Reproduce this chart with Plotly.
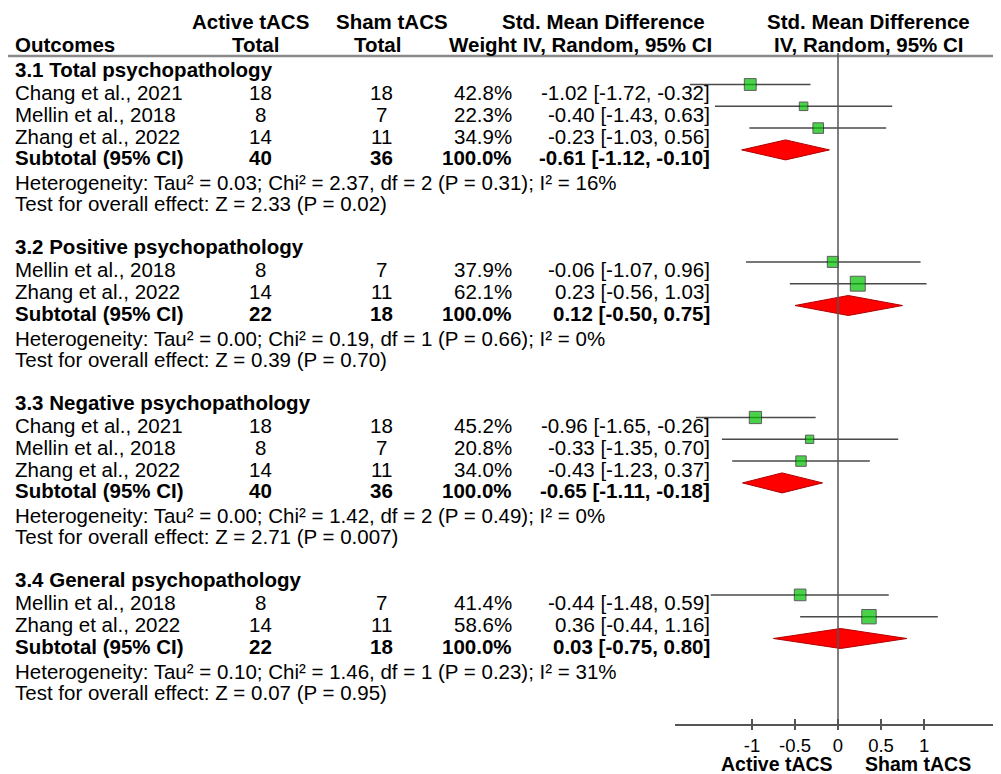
import plotly.graph_objects as go

# ---------------- data ----------------
group_titles = ["3.1 Total psychopathology", "3.2 Positive psychopathology",
                "3.3 Negative psychopathology", "3.4 General psychopathology"]

study_group = [0, 0, 0, 1, 1, 2, 2, 2, 3, 3]
study_names = ["Chang et al., 2021", "Mellin et al., 2018", "Zhang et al., 2022",
               "Mellin et al., 2018", "Zhang et al., 2022",
               "Chang et al., 2021", "Mellin et al., 2018", "Zhang et al., 2022",
               "Mellin et al., 2018", "Zhang et al., 2022"]
active_total = [18, 8, 14, 8, 14, 18, 8, 14, 8, 14]
sham_total = [18, 7, 11, 7, 11, 18, 7, 11, 7, 11]
weights = [42.8, 22.3, 34.9, 37.9, 62.1, 45.2, 20.8, 34.0, 41.4, 58.6]
smd = [-1.02, -0.40, -0.23, -0.06, 0.23, -0.96, -0.33, -0.43, -0.44, 0.36]
ci_low = [-1.72, -1.43, -1.03, -1.07, -0.56, -1.65, -1.35, -1.23, -1.48, -0.44]
ci_high = [-0.32, 0.63, 0.56, 0.96, 1.03, -0.26, 0.70, 0.37, 0.59, 1.16]

sub_active = [40, 22, 40, 22]
sub_sham = [36, 18, 36, 18]
sub_smd = [-0.61, 0.12, -0.65, 0.03]
sub_low = [-1.12, -0.50, -1.11, -0.75]
sub_high = [-0.10, 0.75, -0.18, 0.80]

heterogeneity = [
    "Heterogeneity: Tau² = 0.03; Chi² = 2.37, df = 2 (P = 0.31); I² = 16%",
    "Heterogeneity: Tau² = 0.00; Chi² = 0.19, df = 1 (P = 0.66); I² = 0%",
    "Heterogeneity: Tau² = 0.00; Chi² = 1.42, df = 2 (P = 0.49); I² = 0%",
    "Heterogeneity: Tau² = 0.10; Chi² = 1.46, df = 1 (P = 0.23); I² = 31%",
]
overall_effect = [
    "Test for overall effect: Z = 2.33 (P = 0.02)",
    "Test for overall effect: Z = 0.39 (P = 0.70)",
    "Test for overall effect: Z = 2.71 (P = 0.007)",
    "Test for overall effect: Z = 0.07 (P = 0.95)",
]

tick_values = [-1, -0.5, 0, 0.5, 1]
tick_labels = ["-1", "-0.5", "0", "0.5", "1"]
favours_left = "Active tACS"
favours_right = "Sham tACS"

# ---------------- layout helpers ----------------
OFF = 8                       # page body margin of the html page
PAGE_W, PAGE_H = 1001, 774
W, H = PAGE_W - OFF, PAGE_H - OFF
FONT = "Liberation Sans, Arial, sans-serif"
FS = 20.5
MARK_SHIFT = 8  # markers sit slightly above the text rows

# row positions (page pixel units on the y axis)
heading_y, study_y, sub_y, het_y, test_y = [], [], [], [], []
cur = 69
for g in range(len(group_titles)):
    heading_y.append(cur)
    cur += 23.5
    first = True
    for sg in study_group:
        if sg == g:
            if not first:
                cur += 21.8
            study_y.append(cur)
            first = False
    cur += 21.8
    sub_y.append(cur)
    cur += 24.5
    het_y.append(cur)
    cur += 21.5
    test_y.append(cur)
    cur += 42.5


def px(x):
    return max(0.0, (x - OFF) / W)


def py(y):
    return 1 - (y - OFF) / H


fig = go.Figure()

# CI lines for studies
lx, ly = [], []
for lo, hi, y in zip(ci_low, ci_high, study_y):
    lx += [lo, hi, None]
    ly += [y - MARK_SHIFT, y - MARK_SHIFT, None]
fig.add_trace(go.Scatter(x=lx, y=ly, mode="lines",
                         line=dict(color="#4a4a4a", width=1.5),
                         hoverinfo="skip"))

# study squares
fig.add_trace(go.Scatter(
    x=smd, y=[y - MARK_SHIFT for y in study_y], mode="markers",
    marker=dict(symbol="square", size=[5 + 0.16 * w for w in weights],
                color="#00bf00", line=dict(color="#1a1a1a", width=1))))

# subtotal diamonds
for est, lo, hi, y in zip(sub_smd, sub_low, sub_high, sub_y):
    yc = y - MARK_SHIFT
    fig.add_trace(go.Scatter(
        x=[lo, est, hi, est, lo], y=[yc, yc - 10, yc, yc + 10, yc],
        mode="lines", fill="toself", fillcolor="#ff0000",
        line=dict(color="#b00000", width=1), hoverinfo="skip"))

# invisible trace for the overlay axis (crossing ticks)
fig.add_trace(go.Scatter(x=[0], y=[700], xaxis="x2", yaxis="y",
                         mode="markers", marker=dict(opacity=0),
                         hoverinfo="skip"))

ann = []


def txt(x, y, s, anchor="left", bold=False, size=FS, pad=1):
    ann.append(dict(x=px(x), xref="paper", y=py(y), yref="paper",
                    text=(f"<b>{s}</b>" if bold else s),
                    showarrow=False, xanchor=anchor, yanchor="middle",
                    borderpad=pad,
                    font=dict(family=FONT, size=size, color="black")))


LEFT = 13
C_ACT, C_SHAM, R_W, R_CI = 260, 381, 514, 712

# headers
txt(250, 22, "Active tACS", "center", True)
txt(255, 45, "Total", "center", True)
txt(392, 22, "Sham tACS", "center", True)
txt(377, 45, "Total", "center", True)
txt(LEFT, 45, "Outcomes", "left", True)
txt(707, 22, "Std. Mean Difference", "right", True)
txt(714, 45, "Weight IV, Random, 95% CI", "right", True)
txt(868, 22, "Std. Mean Difference", "center", True)
txt(869, 45, "IV, Random, 95% CI", "center", True)

for g, title in enumerate(group_titles):
    txt(LEFT, heading_y[g], title, "left", True)
    txt(LEFT, sub_y[g], "Subtotal (95% CI)", "left", True)
    txt(C_ACT, sub_y[g], str(sub_active[g]), "center", True)
    txt(C_SHAM, sub_y[g], str(sub_sham[g]), "center", True)
    txt(R_W, sub_y[g], "100.0%", "right", True)
    txt(R_CI, sub_y[g], f"{sub_smd[g]:.2f} [{sub_low[g]:.2f}, {sub_high[g]:.2f}]", "right", True)
    txt(LEFT, het_y[g], heterogeneity[g], "left")
    txt(LEFT, test_y[g], overall_effect[g], "left")

for i, name in enumerate(study_names):
    y = study_y[i]
    txt(LEFT, y, name, "left")
    txt(C_ACT, y, str(active_total[i]), "center")
    txt(C_SHAM, y, str(sham_total[i]), "center")
    txt(R_W, y, f"{weights[i]:.1f}%", "right")
    txt(R_CI, y, f"{smd[i]:.2f} [{ci_low[i]:.2f}, {ci_high[i]:.2f}]", "right")

# favours labels
txt(834, 764, favours_left, "right", True, 19.5, 0)
txt(864, 764, favours_right, "left", True, 19.5, 0)

shapes = [
    # header rule
    dict(type="line", xref="paper", yref="y", x0=0, x1=1, y0=56, y1=56,
         line=dict(color="#8a8a8a", width=2.5)),
    # line of no effect
    dict(type="line", xref="x", yref="y", x0=0, x1=0, y0=53, y1=724,
         line=dict(color="#555555", width=1.5)),
]

AXIS_Y = 724
xdom = [px(675), 1]
xr = [-1.895, 1.895]
fig.update_layout(
    width=W, height=H, margin=dict(l=0, r=0, t=0, b=0),
    plot_bgcolor="white", paper_bgcolor="white", showlegend=False,
    font=dict(family=FONT, size=FS, color="black"),
    xaxis=dict(domain=xdom, range=xr, tickvals=tick_values, ticktext=tick_labels,
               showline=True, linecolor="#555555", linewidth=1.5,
               ticks="outside", ticklen=4, tickcolor="#555555", tickwidth=1.5,
               showgrid=False, zeroline=False, anchor="y",
               tickfont=dict(family=FONT, size=18.5, color="black")),
    xaxis2=dict(domain=xdom, range=xr, tickvals=tick_values, overlaying="x",
                ticks="inside", ticklen=5, tickcolor="#555555", tickwidth=1.5,
                showticklabels=False, showline=False, showgrid=False,
                zeroline=False, anchor="y", side="bottom"),
    yaxis=dict(domain=[py(AXIS_Y), 1], range=[AXIS_Y, OFF], visible=False,
               showgrid=False, zeroline=False),
    annotations=ann, shapes=shapes,
)

fig.write_html("out.html")
